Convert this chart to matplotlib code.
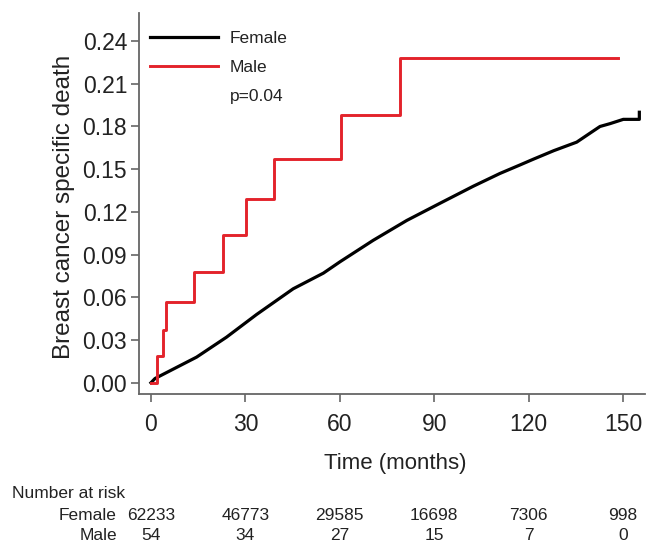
import matplotlib
matplotlib.use('Agg')
import matplotlib.pyplot as plt
import matplotlib.transforms as mtransforms

plt.rcParams['font.family'] = ['Liberation Sans', 'DejaVu Sans']

# Female cumulative incidence
female_t = [0, 1.3, 14.5, 24, 33.6, 45.2, 54.8, 60.1, 70.6, 81.3, 91.8, 102.4,
            110.9, 117.3, 121.5, 128.0, 135.3, 140.0, 142.7, 145.9, 150.1,
            155.2, 155.2]
female_v = [0, 0.003, 0.018, 0.032, 0.048, 0.066, 0.077, 0.085, 0.100, 0.114,
            0.126, 0.138, 0.147, 0.153, 0.157, 0.163, 0.169, 0.176, 0.180,
            0.182, 0.185, 0.185, 0.190]

# Male step function
male_t = [0, 1.9, 3.8, 4.8, 13.7, 22.9, 30.2, 39.0, 60.3, 79.0, 148.3]
male_v = [0, 0.0185, 0.037, 0.057, 0.078, 0.104, 0.129, 0.157, 0.188, 0.228, 0.228]

# number at risk table
risk_times = [0, 30, 60, 90, 120, 150]
risk_female = ['62233', '46773', '29585', '16698', '7306', '998']
risk_male = ['54', '34', '27', '15', '7', '0']

yticks = [0.00, 0.03, 0.06, 0.09, 0.12, 0.15, 0.18, 0.21, 0.24]
xticks = [0, 30, 60, 90, 120, 150]

W, H = 647, 543
fig = plt.figure(figsize=(W / 100, H / 100), dpi=100)
ax = fig.add_axes([139 / W, 1 - 394 / H, (645 - 139) / W, (394 - 13) / H])

txt = '#222222'
grey = '#666666'

ax.plot(female_t, female_v, color='black', lw=2.3, label='Female')
ax.plot(male_t, male_v, color='#e3232b', lw=2.1, drawstyle='steps-post', label='Male')

ax.set_xlim(-3.8, 157.0)
ax.set_ylim(-0.0079, 0.2597)
ax.set_xticks(xticks)
ax.set_yticks(yticks)
ax.set_yticklabels(['%.2f' % v for v in yticks])

for s in ['top', 'right']:
    ax.spines[s].set_visible(False)
for s in ['left', 'bottom']:
    ax.spines[s].set_color(grey)
    ax.spines[s].set_linewidth(1.3)
ax.tick_params(axis='both', direction='out', length=5.5, width=1.2, color=grey,
               labelsize=16.5, labelcolor=txt, pad=3)
ax.tick_params(axis='x', pad=8)

fig.text(395 / W, 1 - 463 / H, 'Time (months)', fontsize=16, color=txt,
         ha='center', va='center')
fig.text(64 / W, 1 - 207 / H, 'Breast cancer specific death', fontsize=17.5,
         color=txt, ha='center', va='center', rotation=90)

leg = ax.legend(loc='upper left', bbox_to_anchor=(150 / W, 1 - 31 / H),
                bbox_transform=fig.transFigure, frameon=False, fontsize=12.5,
                handlelength=3.9, handletextpad=0.7, labelspacing=0.78,
                borderpad=0, borderaxespad=0)
for t in leg.get_texts():
    t.set_color(txt)
fig.text(230 / W, 1 - 96 / H, 'p=0.04', fontsize=12.5, color=txt,
         ha='left', va='center')

# number at risk table
fig.text(12 / W, 1 - 493 / H, 'Number at risk', fontsize=12.5, color=txt,
         ha='left', va='center')
fig.text(117 / W, 1 - 515 / H, 'Female', fontsize=12.5, color=txt,
         ha='right', va='center')
fig.text(117 / W, 1 - 536 / H, 'Male', fontsize=12.5, color=txt,
         ha='right', va='center')
trans = mtransforms.blended_transform_factory(ax.transData, fig.transFigure)
for t, f, m in zip(risk_times, risk_female, risk_male):
    ax.text(t, 1 - 515 / H, f, transform=trans, fontsize=12.5, color=txt,
            ha='center', va='center', clip_on=False)
    ax.text(t, 1 - 536 / H, m, transform=trans, fontsize=12.5, color=txt,
            ha='center', va='center', clip_on=False)

fig.savefig('out.png', dpi=100)
